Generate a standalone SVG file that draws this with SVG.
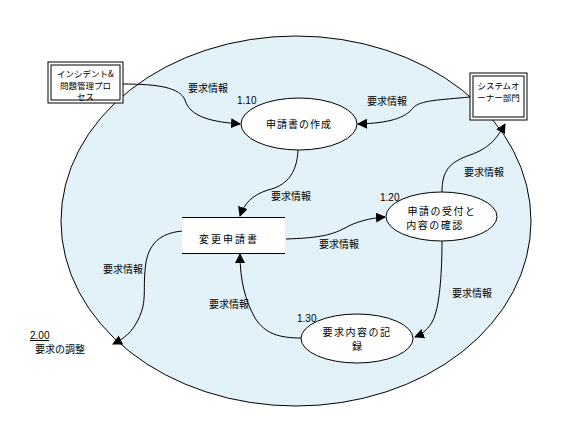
<svg xmlns="http://www.w3.org/2000/svg" width="567" height="429" viewBox="0 0 567 429">
<defs>
<marker id="ah" viewBox="0 0 10 10" refX="9" refY="5" markerWidth="10" markerHeight="10" markerUnits="userSpaceOnUse" orient="auto">
<path d="M0,0 L10,5 L0,10 Z" fill="#000"/>
</marker>
<style>
.t{font-family:"Noto Sans CJK JP","Liberation Sans",sans-serif;font-size:10px;fill:#000}
.s{font-family:"Noto Sans CJK JP","Liberation Sans",sans-serif;font-size:8.5px;fill:#000}
.n{font-family:"Liberation Sans",sans-serif;font-size:10px;fill:#000}
.c{fill:none;stroke:#000;stroke-width:1;marker-end:url(#ah)}
.p{fill:#fff;stroke:#000;stroke-width:1}
</style>
</defs>
<g id="boundary">
<ellipse cx="296" cy="221" rx="235" ry="185" fill="#e3f1f8" stroke="#000" stroke-width="1"/>
</g>
<g id="connectors">
<path class="c" d="M123,84 C160,84 180,88 185,100 C190,118 215,122 240,124"/>
<path class="c" d="M470,97 C440,100 420,100 413,108 C405,118 390,123 358,124"/>
<path class="c" d="M298,150 C297,175 285,186 268,190 C252,195 244,204 240,216"/>
<path class="c" d="M286,239 C315,238 330,236 345,228 C355,222 370,218 385,217"/>
<path class="c" d="M442,192 C442,170 450,162 470,155 C490,148 497,138 505,124"/>
<path class="c" d="M442,241 C442,270 440,300 435,315 C432,325 425,333 415,337"/>
<path class="c" d="M301,338 C280,338 265,334 255,318 C245,300 240,280 240,254"/>
<path class="c" d="M184,231 C165,232 150,240 146,262 C142,290 148,300 138,320 C132,332 125,338 113,344"/>
</g>
<g class="t">
<text x="188" y="92">要求情報</text>
<text x="367" y="105">要求情報</text>
<text x="271" y="200">要求情報</text>
<text x="319" y="248">要求情報</text>
<text x="464" y="176">要求情報</text>
<text x="452" y="297">要求情報</text>
<text x="209" y="308">要求情報</text>
<text x="103" y="273">要求情報</text>
</g>
<g id="incident">
<rect class="p" x="48" y="62" width="75" height="41"/>
<rect fill="none" stroke="#000" x="51" y="65" width="69" height="35"/>
<text class="s" x="85.5" y="76.5" text-anchor="middle">インシデント&amp;</text>
<text class="s" x="85.5" y="88.5" text-anchor="middle">問題管理プロ</text>
<text class="s" x="85.5" y="100" text-anchor="middle">セス</text>
</g>
<g id="owner">
<rect class="p" x="470" y="73" width="57" height="47"/>
<rect fill="none" stroke="#000" x="473" y="76" width="51" height="41"/>
<text class="s" x="498.5" y="89" text-anchor="middle">システムオ</text>
<text class="s" x="498.5" y="101" text-anchor="middle">ーナー部門</text>
</g>
<g id="p110">
<ellipse class="p" cx="299" cy="124" rx="58" ry="26"/>
<text class="n" x="237" y="104">1.10</text>
<text class="t" x="299" y="128" text-anchor="middle" letter-spacing="1">申請書の作成</text>
</g>
<g id="store">
<rect x="182" y="217" width="103" height="36" fill="#fff"/>
<line x1="182" y1="217.5" x2="285" y2="217.5" stroke="#000"/>
<line x1="182" y1="253.5" x2="285" y2="253.5" stroke="#000"/>
<text class="t" x="199" y="243" letter-spacing="2">変更申請書</text>
</g>
<g id="p120">
<ellipse class="p" cx="441.5" cy="216.5" rx="55.5" ry="24.5"/>
<text class="n" x="380" y="201">1.20</text>
<text class="t" x="442" y="215" text-anchor="middle" letter-spacing="1.5">申請の受付と</text>
<text class="t" x="435" y="229" text-anchor="middle" letter-spacing="1.5">内容の確認</text>
</g>
<g id="p130">
<ellipse class="p" cx="357" cy="338.5" rx="56" ry="24.5"/>
<text class="n" x="297" y="322">1.30</text>
<text class="t" x="357" y="336" text-anchor="middle" letter-spacing="1.5">要求内容の記</text>
<text class="t" x="357" y="350" text-anchor="middle">録</text>
</g>
<g id="p200">
<text class="n" x="30" y="339">2.00</text>
<line x1="30" y1="340.5" x2="49" y2="340.5" stroke="#000"/>
<text class="t" x="35" y="353">要求の調整</text>
</g>
</svg>
